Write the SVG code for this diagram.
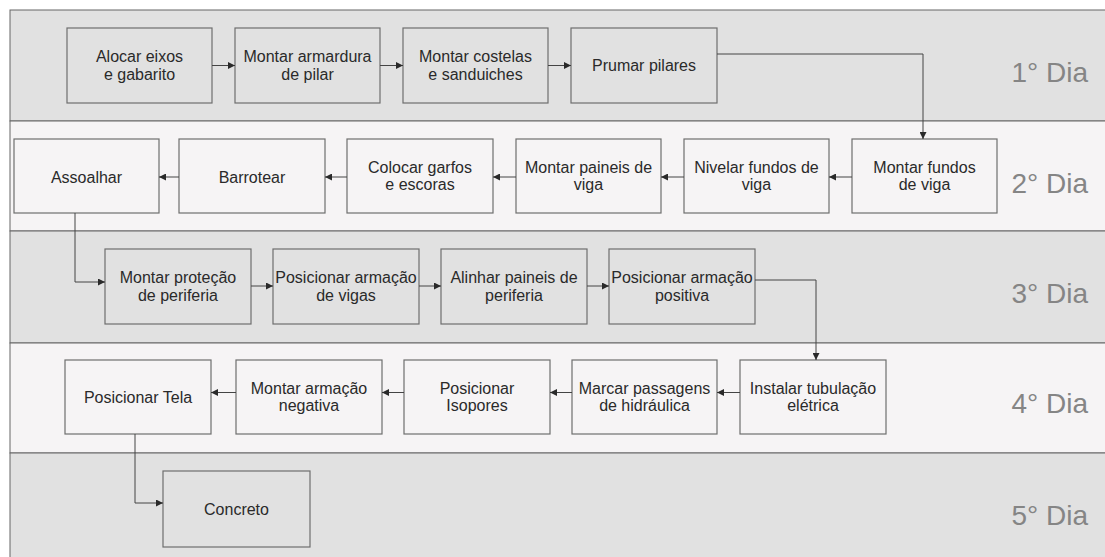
<svg xmlns="http://www.w3.org/2000/svg" width="1105" height="557" viewBox="0 0 1105 557">
<style>
.lane-d{fill:#e1e1e1;stroke:#666;stroke-width:1}
.lane-l{fill:#f6f4f5;stroke:#666;stroke-width:1}
.box{stroke:#6e6e6e;stroke-width:1.2}
.bd{fill:#e1e1e1}
.bl{fill:#f6f4f5}
.t{font-family:"Liberation Sans",Arial,sans-serif;font-size:16px;fill:#2a2a2a;text-anchor:middle}
.day{font-family:"Liberation Sans",Arial,sans-serif;font-size:28px;fill:#858585;text-anchor:end}
.c{fill:none;stroke:#444;stroke-width:1}
</style>
<defs>
<marker id="ah" viewBox="0 0 10 10" refX="10" refY="5" markerWidth="8" markerHeight="7" markerUnits="userSpaceOnUse" orient="auto">
<path d="M0,0 L10,5 L0,10 z" fill="#2a2a2a"/>
</marker>
</defs>
<rect width="1105" height="557" fill="#ffffff"/>
<g id="lanes">
<rect class="lane-d" x="10" y="10" width="1100" height="111"/>
<rect class="lane-l" x="10" y="121" width="1100" height="110"/>
<rect class="lane-d" x="10" y="231" width="1100" height="112"/>
<rect class="lane-l" x="10" y="343" width="1100" height="110"/>
<rect class="lane-d" x="10" y="453" width="1100" height="110"/>
<text class="day" x="1088" y="82">1° Dia</text>
<text class="day" x="1088" y="193">2° Dia</text>
<text class="day" x="1088" y="303">3° Dia</text>
<text class="day" x="1088" y="413">4° Dia</text>
<text class="day" x="1088" y="525">5° Dia</text>
</g>
<g id="n1"><rect class="box bd" x="67" y="28" width="145" height="75"/><text class="t" x="139.5" y="62">Alocar eixos</text><text class="t" x="139.5" y="79.5">e gabarito</text></g>
<g id="n2"><rect class="box bd" x="235" y="28" width="145" height="75"/><text class="t" x="307.5" y="62">Montar armardura</text><text class="t" x="307.5" y="79.5">de pilar</text></g>
<g id="n3"><rect class="box bd" x="403" y="28" width="145" height="75"/><text class="t" x="475.5" y="62">Montar costelas</text><text class="t" x="475.5" y="79.5">e sanduiches</text></g>
<g id="n4"><rect class="box bd" x="571" y="28" width="146" height="75"/><text class="t" x="644" y="71">Prumar pilares</text></g>
<g id="n5"><rect class="box bl" x="852" y="139" width="145" height="74"/><text class="t" x="924.5" y="172.5">Montar fundos</text><text class="t" x="924.5" y="190">de viga</text></g>
<g id="n6"><rect class="box bl" x="684" y="139" width="145" height="74"/><text class="t" x="756.5" y="172.5">Nivelar fundos de</text><text class="t" x="756.5" y="190">viga</text></g>
<g id="n7"><rect class="box bl" x="516" y="139" width="145" height="74"/><text class="t" x="588.5" y="172.5">Montar paineis de</text><text class="t" x="588.5" y="190">viga</text></g>
<g id="n8"><rect class="box bl" x="347" y="139" width="146" height="74"/><text class="t" x="420" y="172.5">Colocar garfos</text><text class="t" x="420" y="190">e escoras</text></g>
<g id="n9"><rect class="box bl" x="179" y="139" width="146" height="74"/><text class="t" x="252" y="182.5">Barrotear</text></g>
<g id="n10"><rect class="box bl" x="14" y="139" width="145" height="74"/><text class="t" x="86.5" y="182.5">Assoalhar</text></g>
<g id="n11"><rect class="box bd" x="105" y="249" width="146" height="75"/><text class="t" x="178" y="283">Montar proteção</text><text class="t" x="178" y="300.5">de periferia</text></g>
<g id="n12"><rect class="box bd" x="273" y="249" width="146" height="75"/><text class="t" x="346" y="283">Posicionar armação</text><text class="t" x="346" y="300.5">de vigas</text></g>
<g id="n13"><rect class="box bd" x="441" y="249" width="146" height="75"/><text class="t" x="514" y="283">Alinhar paineis de</text><text class="t" x="514" y="300.5">periferia</text></g>
<g id="n14"><rect class="box bd" x="609" y="249" width="146" height="75"/><text class="t" x="682" y="283">Posicionar armação</text><text class="t" x="682" y="300.5">positiva</text></g>
<g id="n15"><rect class="box bl" x="740" y="360" width="146" height="74"/><text class="t" x="813" y="393.5">Instalar tubulação</text><text class="t" x="813" y="411">elétrica</text></g>
<g id="n16"><rect class="box bl" x="572" y="360" width="145" height="74"/><text class="t" x="644.5" y="393.5">Marcar passagens</text><text class="t" x="644.5" y="411">de hidráulica</text></g>
<g id="n17"><rect class="box bl" x="404" y="360" width="146" height="74"/><text class="t" x="477" y="393.5">Posicionar</text><text class="t" x="477" y="411">Isopores</text></g>
<g id="n18"><rect class="box bl" x="236" y="360" width="146" height="74"/><text class="t" x="309" y="393.5">Montar armação</text><text class="t" x="309" y="411">negativa</text></g>
<g id="n19"><rect class="box bl" x="65" y="360" width="146" height="74"/><text class="t" x="138" y="403">Posicionar Tela</text></g>
<g id="n20"><rect class="box bd" x="163" y="471" width="147" height="76"/><text class="t" x="236.5" y="515">Concreto</text></g>
<g id="connectors">
<path class="c" d="M212,65.5 H235" marker-end="url(#ah)"/>
<path class="c" d="M380,65.5 H403" marker-end="url(#ah)"/>
<path class="c" d="M548,65.5 H571" marker-end="url(#ah)"/>
<path class="c" d="M717,54 H923 V139" marker-end="url(#ah)"/>
<path class="c" d="M852,177 H829" marker-end="url(#ah)"/>
<path class="c" d="M684,177 H661" marker-end="url(#ah)"/>
<path class="c" d="M516,177 H493" marker-end="url(#ah)"/>
<path class="c" d="M347,177 H325" marker-end="url(#ah)"/>
<path class="c" d="M179,177 H159" marker-end="url(#ah)"/>
<path class="c" d="M75,213 V282 H105" marker-end="url(#ah)"/>
<path class="c" d="M251,286 H273" marker-end="url(#ah)"/>
<path class="c" d="M419,286 H441" marker-end="url(#ah)"/>
<path class="c" d="M587,286 H609" marker-end="url(#ah)"/>
<path class="c" d="M755,280 H816 V360" marker-end="url(#ah)"/>
<path class="c" d="M740,392.5 H717" marker-end="url(#ah)"/>
<path class="c" d="M572,392.5 H550" marker-end="url(#ah)"/>
<path class="c" d="M404,392.5 H382" marker-end="url(#ah)"/>
<path class="c" d="M236,392.5 H211" marker-end="url(#ah)"/>
<path class="c" d="M135,434 V503 H163" marker-end="url(#ah)"/>
</g>
</svg>
